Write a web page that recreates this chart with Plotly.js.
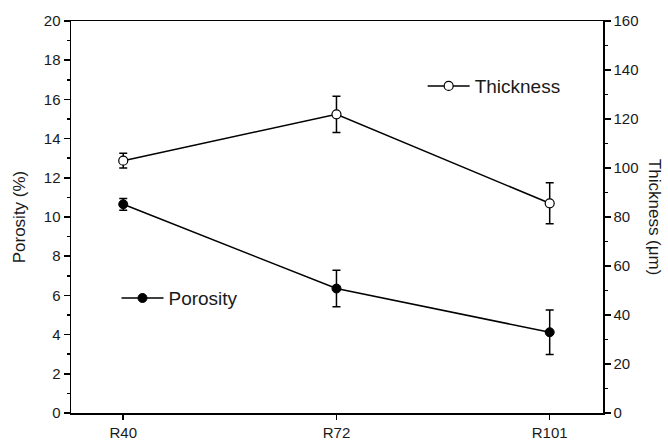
<!DOCTYPE html>
<html>
<head>
<meta charset="utf-8">
<script src="https://cdn.plot.ly/plotly-3.0.1.min.js"></script>
<style>html,body{margin:0;padding:0;background:#fff;}#chart{width:668px;height:442px;}</style>
</head>
<body>
<div id="chart"></div>
<script>
const categories = ["R40", "R72", "R101"];
const porosity = [10.65, 6.35, 4.12];
const porosityErr = [0.3, 0.93, 1.13];
const thickness = [103.0, 121.9, 85.6];
const thicknessErr = [3.0, 7.4, 8.4];
const leftTicks = [0, 2, 4, 6, 8, 10, 12, 14, 16, 18, 20];
const rightTicks = [0, 20, 40, 60, 80, 100, 120, 140, 160];

const FONT = "Liberation Sans, Arial, sans-serif";
const TXT = "#1a1a1a";
const xIdx = categories.map((c, i) => i);

const traces = [
  {
    x: xIdx, y: thickness, yaxis: "y2", name: "Thickness", type: "scatter", mode: "lines+markers",
    line: {color: "#000", width: 1.5},
    marker: {symbol: "circle", size: 9, color: "#fff", line: {color: "#000", width: 1.2}},
    error_y: {type: "data", array: thicknessErr, visible: true, color: "#000", thickness: 1.5, width: 4},
    legend: "legend"
  },
  {
    x: xIdx, y: porosity, yaxis: "y", name: "Porosity", type: "scatter", mode: "lines+markers",
    line: {color: "#000", width: 1.5},
    marker: {symbol: "circle", size: 9, color: "#000", line: {color: "#000", width: 1}},
    error_y: {type: "data", array: porosityErr, visible: true, color: "#000", thickness: 1.5, width: 4},
    legend: "legend2"
  }
];

const layout = {
  width: 668, height: 442,
  margin: {l: 71, r: 65, t: 21, b: 29, pad: 0},
  paper_bgcolor: "#fff", plot_bgcolor: "#fff",
  font: {family: FONT, size: 15, color: TXT},
  showlegend: true,
  xaxis: {
    range: [-0.245, 2.25], tickmode: "array", tickvals: xIdx, ticktext: categories,
    showgrid: false, zeroline: false, showline: true, linecolor: "#000", linewidth: 1.5, mirror: true,
    ticks: "outside", ticklen: 5, tickwidth: 1.5, tickcolor: "#000",
    tickfont: {family: FONT, size: 15, color: TXT}
  },
  yaxis: {
    range: [0, 20], tickmode: "array", tickvals: leftTicks,
    showgrid: false, zeroline: false, showline: true, linecolor: "#000", linewidth: 1.5,
    ticks: "outside", ticklen: 6, tickwidth: 1.5, tickcolor: "#000",
    minor: {dtick: 1, ticks: "outside", ticklen: 3, tickwidth: 1.5, tickcolor: "#000", showgrid: false},
    tickfont: {family: FONT, size: 15, color: TXT},
    title: {text: "Porosity (%)", font: {family: FONT, size: 17, color: TXT}, standoff: 14}
  },
  yaxis2: {
    range: [0, 160], overlaying: "y", side: "right", tickmode: "array", tickvals: rightTicks,
    showgrid: false, zeroline: false, showline: true, linecolor: "#000", linewidth: 1.5,
    ticks: "outside", ticklen: 6, tickwidth: 1.5, tickcolor: "#000",
    minor: {dtick: 10, ticks: "outside", ticklen: 3, tickwidth: 1.5, tickcolor: "#000", showgrid: false},
    tickfont: {family: FONT, size: 15, color: TXT}
  },
  legend: {
    x: 0.661, y: 0.834, xanchor: "left", yanchor: "middle", bgcolor: "rgba(0,0,0,0)",
    itemwidth: 42,
    font: {family: FONT, size: 19, color: TXT}
  },
  legend2: {
    x: 0.0855, y: 0.293, xanchor: "left", yanchor: "middle", bgcolor: "rgba(0,0,0,0)",
    itemwidth: 42,
    font: {family: FONT, size: 19, color: TXT}
  },
  annotations: [
    {
      text: "Thickness (\u03bcm)", xref: "paper", yref: "paper", x: 1.098, y: 0.5,
      xanchor: "center", yanchor: "middle", textangle: 90, showarrow: false,
      font: {family: FONT, size: 17, color: TXT}
    }
  ]
};

Plotly.newPlot("chart", traces, layout, {staticPlot: true, displayModeBar: false});
</script>
</body>
</html>
